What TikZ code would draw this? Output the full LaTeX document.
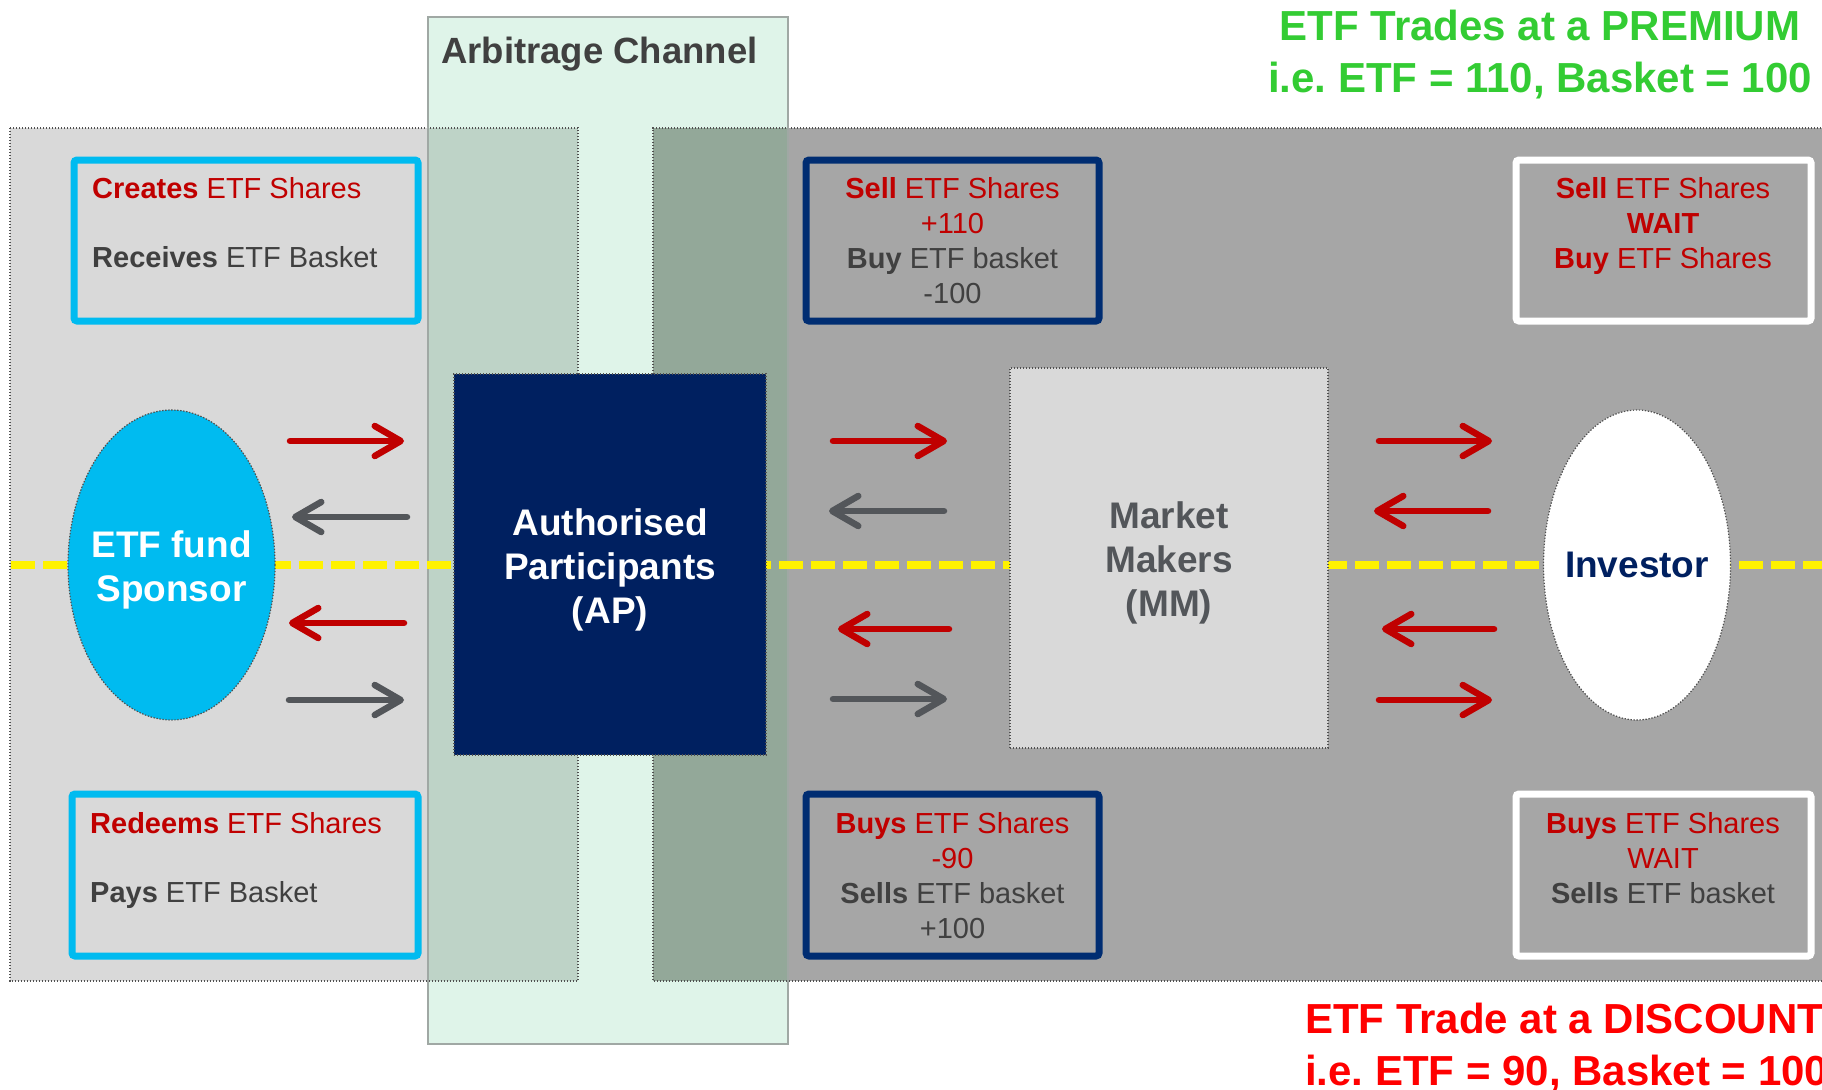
\documentclass[tikz,border=0pt]{standalone}
\usepackage{fontspec}
\setmainfont{Liberation Sans}
\usetikzlibrary{arrows.meta,shapes.geometric}
\frenchspacing
\definecolor{panelL}{HTML}{D9D9D9}
\definecolor{panelR}{HTML}{A6A6A6}
\definecolor{chan}{HTML}{DFF4E9}
\definecolor{chanline}{HTML}{A0A8A4}
\definecolor{ovL}{HTML}{BED3C7}
\definecolor{ovR}{HTML}{93A899}
\definecolor{cyanb}{HTML}{00BBF0}
\definecolor{navy}{HTML}{002060}
\definecolor{navyb}{HTML}{002D72}
\definecolor{redt}{HTML}{C00000}
\definecolor{grayt}{HTML}{404040}
\definecolor{grayarrow}{HTML}{53565A}
\definecolor{mmtext}{HTML}{53565A}
\definecolor{premium}{HTML}{33CC33}
\definecolor{discount}{HTML}{FF0000}
\definecolor{dotline}{HTML}{505050}
\newcommand\bxfont{\fontsize{29}{35}\selectfont}
\newcommand\nodefont{\fontsize{37}{44}\selectfont\bfseries}
\newcommand\upstrut{\rule{0pt}{37pt}}
\tikzset{
  dotb/.style={draw=dotline, line width=1.2pt, dash pattern=on 1.4pt off 1.6pt},
  infobox/.style={rectangle, line width=7pt, rounded corners=3pt, inner sep=0pt},
  boxtext/.style={inner sep=0pt, font=\bxfont, text=grayt},
  nodelabel/.style={inner sep=0pt, align=center, font=\nodefont},
  arr/.style={line width=6.5pt, line cap=round, -{Straight Barb[round, length=26pt, width=30pt]}},
  redarr/.style={arr, draw=redt},
  grayarr/.style={arr, draw=grayarrow},
  title/.style={inner sep=0pt, font=\fontsize{42}{52}\selectfont\bfseries},
}
\begin{document}
\begin{tikzpicture}[x=1pt, y=-1pt]
\useasboundingbox (0,0) rectangle (1822,1089);
\fill[white] (0,0) rectangle (1822,1089);

% arbitrage channel
\fill[chan] (428,17) rectangle (788,1044);
% left panel
\fill[panelL] (10,128) rectangle (428,981);
\fill[ovL] (428,128) rectangle (578,981);
\draw[dotb] (10,128) rectangle (578,981);
% right panel
\fill[ovR] (653,128) rectangle (788,981);
\fill[panelR] (788,128) rectangle (1830,981);
\draw[dotb] (1830,128) -- (653,128) -- (653,981) -- (1830,981);
% channel outline
\draw[chanline, line width=1.2pt] (428,17) rectangle (788,1044);
\node[inner sep=0pt, anchor=north west, font=\fontsize{36.5}{44}\selectfont\bfseries, text=grayt] (chantitle) at (441,37) {Arbitrage Channel};

% yellow dashed line
\coordinate (yl) at (11,565);
\coordinate (yr) at (1822,565);
\draw[yellow, line width=7.5pt, dash pattern=on 24pt off 8pt] (yl) -- (yr);

% main nodes
\node[ellipse, fill=cyanb, dotb, minimum width=207pt, minimum height=310pt, inner sep=0pt] (sponsor) at (171.5,565) {};
\node[nodelabel, text=white] (sponsorlbl) at (sponsor.center) {\upstrut ETF fund\\Sponsor};
\node[rectangle, fill=navy, dotb, minimum width=312pt, minimum height=381pt, inner sep=0pt,
      align=center, text=white, font=\nodefont] (ap) at (610,564.5) {\upstrut Authorised\\Participants\\(AP)};
\node[rectangle, fill=panelL, dotb, minimum width=318pt, minimum height=380pt, inner sep=0pt,
      align=center, text=mmtext, font=\nodefont] (mm) at (1169,558) {\upstrut Market\\Makers\\(MM)};
\node[ellipse, fill=white, dotb, minimum width=187pt, minimum height=310pt, inner sep=0pt] (inv) at (1637,565) {};
\node[nodelabel, text=navy] (invlbl) at (inv.center) {Investor};

% info boxes
\node[infobox, draw=cyanb, fill=panelL, minimum width=344pt, minimum height=161pt] (ctop) at (246,240.5) {};
\node[infobox, draw=cyanb, fill=panelL, minimum width=346pt, minimum height=162pt] (cbot) at (245,875) {};
\node[infobox, draw=navyb, fill=panelR, minimum width=293pt, minimum height=161pt] (ntop) at (952.5,240.5) {};
\node[infobox, draw=navyb, fill=panelR, minimum width=293pt, minimum height=162pt] (nbot) at (952.5,875) {};
\node[infobox, draw=white, fill=panelR, minimum width=295pt, minimum height=161pt] (wtop) at (1663.5,240.5) {};
\node[infobox, draw=white, fill=panelR, minimum width=295pt, minimum height=162pt] (wbot) at (1663.5,875) {};

% box texts
\node[boxtext, anchor=north west, align=left] (ctopt) at (92,177.2)
  {{\color{redt}\textbf{Creates} ETF Shares}\\[34pt]\textbf{Receives} ETF Basket};
\node[boxtext, anchor=north west, align=left] (cbott) at (90,812.2)
  {{\color{redt}\textbf{Redeems} ETF Shares}\\[34pt]\textbf{Pays} ETF Basket};
\node[boxtext, anchor=north, align=center] (ntopt) at (952.5,177.2)
  {{\color{redt}\textbf{Sell} ETF Shares}\\{\color{redt}+110}\\\textbf{Buy} ETF basket\\-100};
\node[boxtext, anchor=north, align=center] (nbott) at (952.5,812.2)
  {{\color{redt}\textbf{Buys} ETF Shares}\\{\color{redt}-90}\\\textbf{Sells} ETF basket\\+100};
\node[boxtext, anchor=north, align=center, text=redt] (wtopt) at (1663,177.2)
  {\textbf{Sell} ETF Shares\\\textbf{WAIT}\\\textbf{Buy} ETF Shares};
\node[boxtext, anchor=north, align=center] (wbott) at (1663,812.2)
  {{\color{redt}\textbf{Buys} ETF Shares}\\{\color{redt}WAIT}\\\textbf{Sells} ETF basket};

% titles
\node[title, anchor=north, align=center, text=premium] (prem) at (1540,10.3)
  {ETF Trades at a PREMIUM\\i.e. ETF = 110, Basket = 100};
\node[title, anchor=north west, align=left, text=discount] (disc) at (1305,1003.3)
  {ETF Trade at a DISCOUNT\\i.e. ETF = 90, Basket = 100};

% arrow end points
\coordinate (a1s) at (290,441);  \coordinate (a1e) at (404,441);
\coordinate (a2s) at (407,517);  \coordinate (a2e) at (292,517);
\coordinate (a3s) at (404,623);  \coordinate (a3e) at (289,623);
\coordinate (a4s) at (289,700);  \coordinate (a4e) at (404,700);
\coordinate (b1s) at (833,441);  \coordinate (b1e) at (947,441);
\coordinate (b2s) at (944,511);  \coordinate (b2e) at (829,511);
\coordinate (b3s) at (949,629);  \coordinate (b3e) at (838,629);
\coordinate (b4s) at (833,699);  \coordinate (b4e) at (947,699);
\coordinate (c1s) at (1379,441); \coordinate (c1e) at (1492,441);
\coordinate (c2s) at (1488,511); \coordinate (c2e) at (1374,511);
\coordinate (c3s) at (1494,629); \coordinate (c3e) at (1382,629);
\coordinate (c4s) at (1379,700); \coordinate (c4e) at (1492,700);

\draw[redarr]  (a1s) -- (a1e);
\draw[grayarr] (a2s) -- (a2e);
\draw[redarr]  (a3s) -- (a3e);
\draw[grayarr] (a4s) -- (a4e);
\draw[redarr]  (b1s) -- (b1e);
\draw[grayarr] (b2s) -- (b2e);
\draw[redarr]  (b3s) -- (b3e);
\draw[grayarr] (b4s) -- (b4e);
\draw[redarr]  (c1s) -- (c1e);
\draw[redarr]  (c2s) -- (c2e);
\draw[redarr]  (c3s) -- (c3e);
\draw[redarr]  (c4s) -- (c4e);
\end{tikzpicture}
\end{document}
